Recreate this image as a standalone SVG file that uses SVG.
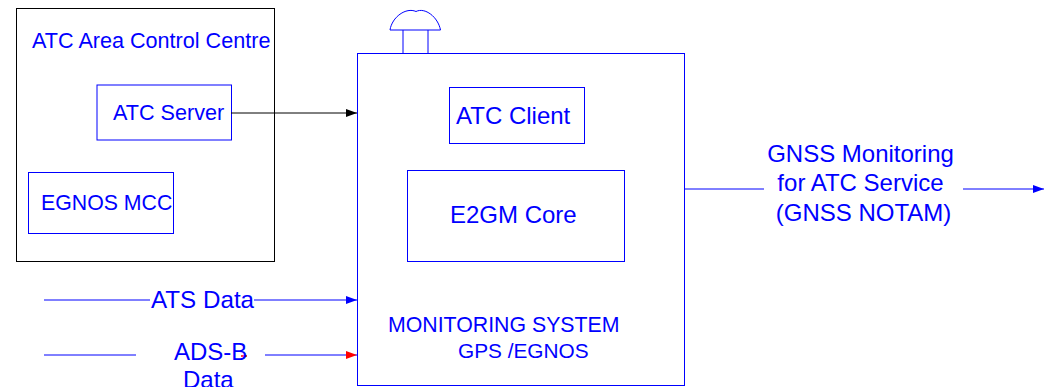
<svg xmlns="http://www.w3.org/2000/svg" width="1047" height="387" viewBox="0 0 1047 387">
<style>
text{font-family:"Liberation Sans",Arial,sans-serif;fill:#0000ff}
.s21{font-size:21.6px}.s24{font-size:24px}
.box{fill:none;stroke:#0000ff;stroke-width:1}
.ln{fill:none;stroke:#0000ff;stroke-width:1}
</style>
<defs>
<marker id="ab" markerUnits="userSpaceOnUse" markerWidth="12" markerHeight="10" refX="11" refY="4" orient="auto"><path d="M0 0L11 4L0 8Z" fill="#0000ff"/></marker>
<marker id="ak" markerUnits="userSpaceOnUse" markerWidth="12" markerHeight="10" refX="11" refY="4" orient="auto"><path d="M0 0L11 4L0 8Z" fill="#000"/></marker>
<marker id="ar" markerUnits="userSpaceOnUse" markerWidth="12" markerHeight="10" refX="11" refY="4" orient="auto"><path d="M0 0L11 4L0 8Z" fill="#ff0000"/></marker>
</defs>
<rect width="1047" height="387" fill="#fff"/>
<g id="atc-area-control-centre"><rect x="16.500" y="8.500" width="258" height="253" fill="none" stroke="#000" stroke-width="1"/><text class="s21" x="32" y="48">ATC Area Control Centre</text></g>
<g id="atc-server"><rect class="box" x="97" y="85" width="134.500" height="55"/><text class="s21" x="113" y="120">ATC Server</text></g>
<g id="egnos-mcc"><rect class="box" x="28.500" y="172.500" width="145" height="61"/><text class="s21" x="41" y="210" style="font-size:21.3px">EGNOS MCC</text></g>
<g id="monitoring-system"><rect class="box" x="357.500" y="53.500" width="327" height="332"/><text class="s21" x="388" y="332" style="font-size:21.3px">MONITORING SYSTEM</text><text class="s21" x="458" y="358" style="font-size:20.8px">GPS /EGNOS</text></g>
<g id="antenna"><path class="ln" d="M403 53V30M428 53V30M390 30H440.500C438 17 425 7 416 11.500C406 7 392 17 390 30Z"/></g>
<g id="atc-client"><rect class="box" x="449.500" y="87.500" width="135" height="56"/><text class="s24" x="456" y="124">ATC Client</text></g>
<g id="e2gm-core"><rect class="box" x="407.500" y="170.500" width="217" height="91"/><text class="s24" x="450" y="223">E2GM Core</text></g>
<g id="connectors">
<path d="M231 113H357" fill="none" stroke="#000" stroke-width="1" marker-end="url(#ak)"/>
<path class="ln" d="M44 300H150"/>
<path class="ln" d="M254 300H357" marker-end="url(#ab)"/>
<path class="ln" d="M44 355H136"/>
<path class="ln" d="M265 355H357" marker-end="url(#ar)"/>
<path class="ln" d="M685 189H764"/>
<path class="ln" d="M963 189H1044" marker-end="url(#ab)"/>
<path d="M241 356H247" stroke="#ff0000" stroke-width="1.500" fill="none"/>
</g>
<g id="labels">
<text class="s24" x="151" y="308" style="font-size:24.2px">ATS Data</text>
<text class="s24" x="174" y="360">ADS-B</text>
<text class="s24" x="183" y="388">Data</text>
<text class="s24" x="860.500" y="162" text-anchor="middle">GNSS Monitoring</text>
<text class="s24" x="860.500" y="191" text-anchor="middle">for ATC Service</text>
<text class="s24" x="863.500" y="221" text-anchor="middle">(GNSS NOTAM)</text>
</g>
</svg>
